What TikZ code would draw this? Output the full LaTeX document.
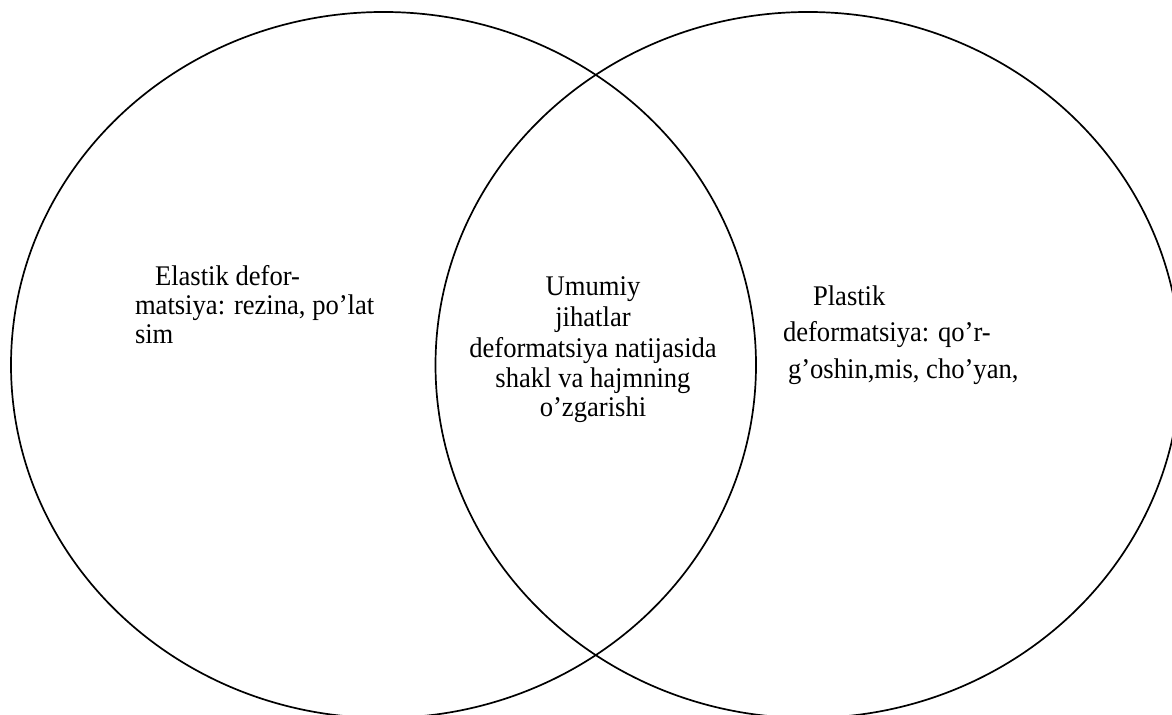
\documentclass[tikz,border=0pt]{standalone}
\usepackage{fontspec}
\setmainfont{Liberation Serif}
\newcommand{\tallText}[1]{\scalebox{1}[1.07]{#1}}
\begin{document}
\begin{tikzpicture}[x=0.5pt,y=0.5pt,
  setline/.style={draw=black,line width=0.85pt},
  lbl/.style={inner sep=0pt,outer sep=0pt,font=\fontsize{13.3pt}{15pt}\selectfont}]
\useasboundingbox (0,0) rectangle (1172,715);
\begin{scope}
  \clip (0,0) rectangle (1172,715);
  % the two overlapping sets
  \draw[setline] (383.5,350) ellipse [x radius=372.5, y radius=353];
  \draw[setline] (808,350) ellipse [x radius=372.5, y radius=353];
\end{scope}
% left set
\node[lbl,anchor=base west] (l1) at (155,429) {\tallText{Elastik defor-}};
\node[lbl,anchor=base west] (l2) at (135,400) {\tallText{matsiya: rezina, po’lat}};
\node[lbl,anchor=base west] (l3) at (135,371) {\tallText{sim}};
% common part
\node[lbl,anchor=base] (m1) at (593,419.5) {\tallText{Umumiy}};
\node[lbl,anchor=base] (m2) at (593,388.5) {\tallText{jihatlar}};
\node[lbl,anchor=base] (m3) at (593,357) {\tallText{deformatsiya natijasida}};
\node[lbl,anchor=base] (m4) at (593,327.4) {\tallText{shakl va hajmning}};
\node[lbl,anchor=base] (m5) at (593,298) {\tallText{o’zgarishi}};
% right set
\node[lbl,anchor=base west] (r1) at (813,409) {\tallText{Plastik}};
\node[lbl,anchor=base west] (r2) at (783,373.5) {\tallText{deformatsiya: qo’r-}};
\node[lbl,anchor=base west] (r3) at (788,336.5) {\tallText{g’oshin,mis, cho’yan,}};
\end{tikzpicture}
\end{document}
